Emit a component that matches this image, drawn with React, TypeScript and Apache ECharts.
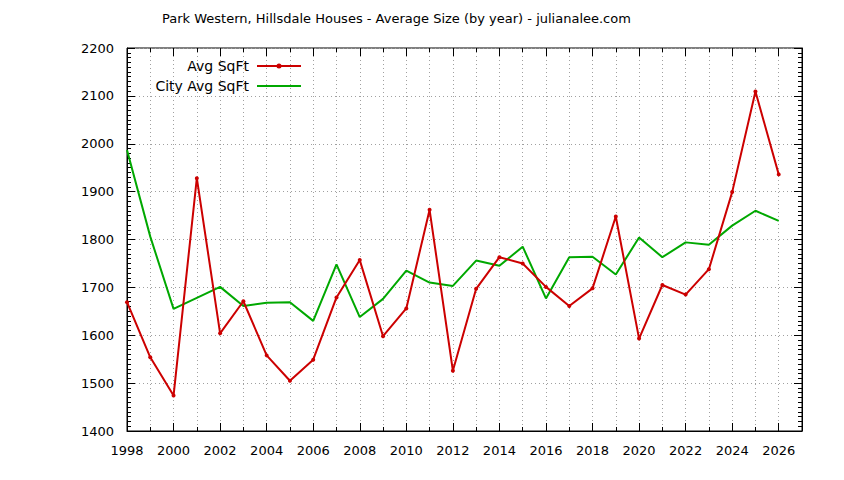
import React, { useEffect, useRef } from "react";
import * as echarts from "echarts";

const years = [1998, 1999, 2000, 2001, 2002, 2003, 2004, 2005, 2006, 2007, 2008, 2009, 2010, 2011, 2012, 2013, 2014, 2015, 2016, 2017, 2018, 2019, 2020, 2021, 2022, 2023, 2024, 2025, 2026];
const avgSqFt = [1669, 1554, 1474, 1928, 1604, 1671, 1558, 1505, 1549, 1679, 1757, 1598, 1656, 1862, 1526, 1697, 1763, 1750, 1701, 1661, 1698, 1848, 1593, 1705, 1685, 1738, 1899, 2109, 1936];
const cityAvgSqFt = [1987, 1806, 1655, 1678, 1701, 1661, 1668, 1669, 1630, 1748, 1638, 1676, 1735, 1710, 1703, 1756, 1745, 1785, 1677, 1763, 1764, 1727, 1804, 1763, 1794, 1789, 1829, 1860, 1839];

const titleText = "Park Western, Hillsdale Houses - Average Size (by year) - julianalee.com";
const FONT = '"DejaVu Sans", sans-serif';
const RED = "#cc0000";
const GREEN = "#00a800";

export default function App() {
  const ref = useRef<HTMLDivElement>(null);
  useEffect(() => {
    const chart = echarts.init(ref.current!, null, { renderer: "svg" });
    const xBase = { type: "value", min: 1998, max: 2027, gridIndex: 0 };
    const tickStyle = { color: "#000", width: 1 };
    const legendText = { fontFamily: FONT, fontSize: 14, color: "#000", padding: [0, 3, 0, 0] };
    chart.setOption({
      animation: false,
      backgroundColor: "#fff",
      title: {
        text: titleText,
        left: 162,
        top: 12,
        padding: 0,
        textStyle: { fontFamily: FONT, fontSize: 13, fontWeight: "normal", color: "#000" },
      },
      legend: [
        {
          data: [
            {
              name: "Avg SqFt",
              icon: "path://M0 2H44V4H0Z M19.5 3a2.5 2.5 0 1 1 5 0a2.5 2.5 0 1 1 -5 0Z",
            },
          ],
          right: 543,
          top: 59,
          padding: 0,
          align: "right",
          itemWidth: 44,
          itemHeight: 5,
          textStyle: legendText,
        },
        {
          data: [{ name: "City Avg SqFt", icon: "rect" }],
          right: 543,
          top: 79,
          padding: 0,
          align: "right",
          itemWidth: 44,
          itemHeight: 2,
          textStyle: legendText,
        },
      ],
      grid: {
        left: 127,
        right: 42,
        top: 48,
        bottom: 49,
        show: true,
        borderColor: "#000",
        borderWidth: 1,
        backgroundColor: "transparent",
      },
      xAxis: [
        {
          ...xBase,
          position: "bottom",
          interval: 1,
          axisLine: { show: true, lineStyle: { color: "#000", width: 1 } },
          axisTick: { show: true, inside: true, length: 4, lineStyle: tickStyle },
          axisLabel: {
            show: true,
            margin: 13,
            fontFamily: FONT,
            fontSize: 13,
            color: "#000",
            formatter: (v: number) => (v % 2 === 0 && v <= 2026 ? String(v) : ""),
          },
          splitLine: { show: true, lineStyle: { color: "#a0a0a0", type: [1, 3], width: 1 } },
        },
        {
          ...xBase,
          position: "bottom",
          interval: 2,
          axisLine: { show: false },
          axisTick: { show: true, inside: true, length: 8, lineStyle: tickStyle },
          axisLabel: { show: false },
          splitLine: { show: false },
        },
        {
          ...xBase,
          position: "top",
          interval: 1,
          axisLine: { show: false },
          axisTick: { show: true, inside: true, length: 4, lineStyle: tickStyle },
          axisLabel: { show: false },
          splitLine: { show: false },
        },
        {
          ...xBase,
          position: "top",
          interval: 2,
          axisLine: { show: false },
          axisTick: { show: true, inside: true, length: 8, lineStyle: tickStyle },
          axisLabel: { show: false },
          splitLine: { show: false },
        },
      ],
      yAxis: [
        {
          type: "value",
          position: "left",
          min: 1400,
          max: 2200,
          interval: 100,
          axisLine: { show: true, lineStyle: { color: "#000", width: 1 } },
          axisTick: { show: true, inside: true, length: 8, lineStyle: tickStyle },
          minorTick: { show: true, splitNumber: 10, length: 4, lineStyle: tickStyle },
          axisLabel: {
            show: true,
            margin: 13,
            fontFamily: FONT,
            fontSize: 13,
            color: "#000",
            formatter: (v: number) => String(v),
          },
          splitLine: { show: true, lineStyle: { color: "#a0a0a0", type: [1, 3], width: 1 } },
        },
        {
          type: "value",
          position: "right",
          min: 1400,
          max: 2200,
          interval: 100,
          axisLine: { show: true, lineStyle: { color: "#000", width: 1 } },
          axisTick: { show: true, inside: true, length: 8, lineStyle: tickStyle },
          minorTick: { show: true, splitNumber: 10, length: 4, lineStyle: tickStyle },
          axisLabel: { show: false },
          splitLine: { show: false },
        },
      ],
      series: [
        {
          name: "Avg SqFt",
          type: "line",
          xAxisIndex: 0,
          yAxisIndex: 0,
          data: years.map((y, i) => [y, avgSqFt[i]]),
          symbol: "circle",
          symbolSize: 4,
          color: RED,
          lineStyle: { color: RED, width: 2 },
          itemStyle: { color: RED },
          z: 3,
        },
        {
          name: "City Avg SqFt",
          type: "line",
          xAxisIndex: 0,
          yAxisIndex: 0,
          data: years.map((y, i) => [y, cityAvgSqFt[i]]),
          symbol: "none",
          color: GREEN,
          lineStyle: { color: GREEN, width: 2 },
          itemStyle: { color: GREEN },
          z: 2,
        },
      ],
    });
    return () => chart.dispose();
  }, []);
  return (
    <div
      ref={ref}
      style={{ position: "absolute", left: 0, top: 0, width: 844, height: 480, background: "#fff" }}
    />
  );
}
